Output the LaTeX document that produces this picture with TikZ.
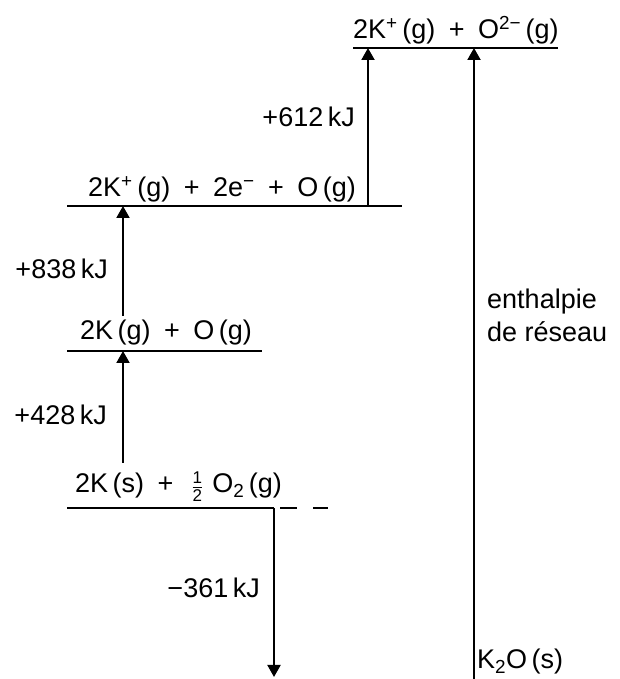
\documentclass[tikz,border=0pt]{standalone}
\usepackage{fontspec}
\setmainfont{Liberation Sans}
\usetikzlibrary{arrows.meta,positioning}
\newcommand{\pls}{\hspace{0.5em}+\hspace{0.5em}}
\newcommand{\hlf}{$\frac{\mbox{\fontsize{17pt}{17pt}\selectfont 1}}{\mbox{\fontsize{17pt}{17pt}\selectfont 2}}$}
\tikzset{
  lvl/.style={line width=2.4pt},
  upar/.style={-{Triangle[length=12pt,width=13pt]}, line width=2pt},
  spc/.style={font=\fontsize{27pt}{33pt}\selectfont, inner sep=0pt, anchor=base west},
  enl/.style={font=\fontsize{27pt}{33pt}\selectfont, inner sep=0pt, anchor=base east},
  ext/.style={line width=2.4pt, dash pattern=on 17pt off 16pt},
}
\begin{document}
\begin{tikzpicture}[x=1pt,y=1pt]
  \useasboundingbox (0,0) rectangle (620,679);
  % levels
  \coordinate (l1a) at (67,171);  \coordinate (l1b) at (274,171);
  \coordinate (l2a) at (67,328);  \coordinate (l2b) at (262,328);
  \coordinate (l3a) at (67,473);  \coordinate (l3b) at (402,473);
  \coordinate (l4a) at (353,631); \coordinate (l4b) at (558,631);
  \draw[lvl] (l1a) -- (l1b);
  \draw[lvl] (l2a) -- (l2b);
  \draw[lvl] (l3a) -- (l3b);
  \draw[lvl] (l4a) -- (l4b);
  \coordinate (d1) at ([xshift=6pt]l1b);
  \coordinate (d2) at ([xshift=54pt]l1b);
  \draw[ext] (d1) -- (d2);
  % species
  \node[spc] (s1) at (75,186) {2K\,(s)\pls\,\hlf\,\,O\textsubscript{2}\,(g)};
  \node[spc] (s2) at (80,339) {2K\,(g)\pls O\,(g)};
  \node[spc] (s3) at (88,482) {2K\textsuperscript{+}\,(g)\pls 2e\textsuperscript{−}\pls O\,(g)};
  \node[spc] (s4) at (353,640) {2K\textsuperscript{+}\,(g)\pls O\textsuperscript{2−}\,(g)};
  \node[spc] (s0) at (477,10) {K\textsubscript{2}O\,(s)};
  % steps
  \coordinate (k1) at (123,216); \coordinate (k2) at (123,328);
  \coordinate (k3) at (123,363); \coordinate (k4) at (123,473);
  \coordinate (i1) at (368,473); \coordinate (i2) at (368,631);
  \coordinate (r1) at (474,0);   \coordinate (r2) at (474,631);
  \coordinate (f1) at (274,2);
  \draw[upar] (k1) -- (k2);
  \draw[upar] (k3) -- (k4);
  \draw[upar] (i1) -- (i2);
  \draw[upar] (r1) -- (r2);
  \draw[upar] (l1b) -- (f1);
  \node[enl] (e1) at (107,254) {+428\,kJ};
  \node[enl] (e2) at (108,400) {+838\,kJ};
  \node[enl] (e3) at (355,552) {+612\,kJ};
  \node[enl] (e4) at (260,81) {−361\,kJ};
  \node[spc, align=left] (lat) at (487,337) {enthalpie\\de réseau};
\end{tikzpicture}
\end{document}
